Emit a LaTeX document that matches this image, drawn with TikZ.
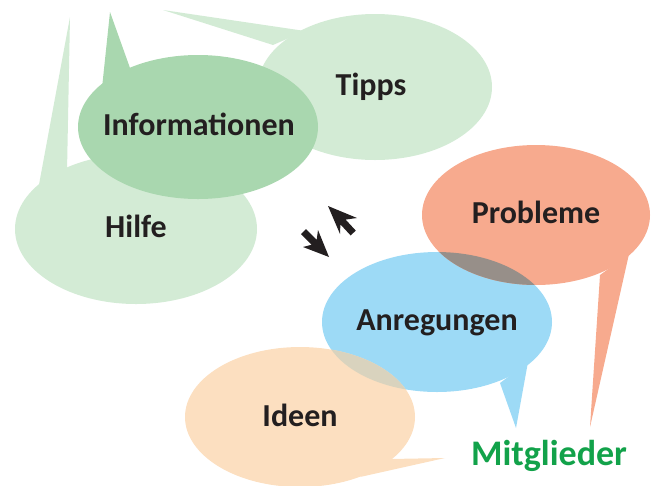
\documentclass[tikz,border=0pt]{standalone}
\usepackage{fontspec}
\setmainfont{Carlito}
\definecolor{lgreen}{HTML}{D3EBD5}
\definecolor{mgreen}{HTML}{A9D7AF}
\definecolor{salmon}{HTML}{F7AA8E}
\definecolor{skyb}{HTML}{9DDAF6}
\definecolor{peach}{HTML}{FCDFC0}
\definecolor{ovlA}{HTML}{978F89}
\definecolor{ovlB}{HTML}{D9D3BE}
\definecolor{txt}{HTML}{231F20}
\definecolor{mgtxt}{HTML}{12A24A}
\begin{document}
\begin{tikzpicture}[x=1pt,y=-1pt,
  lbl/.style={font=\fontsize{32}{36}\selectfont\bfseries, text=txt, inner sep=0pt, anchor=base},
  arrowshape/.style={fill=txt}]
\useasboundingbox (0,0) rectangle (652,485);
% Tipps
\fill[lgreen] (375,87) ellipse [x radius=117, y radius=73];
\fill[lgreen] (163,10) -- (305,31) -- (273,45) -- cycle;
% Hilfe
\fill[lgreen] (136,229) ellipse [x radius=121, y radius=75];
\fill[lgreen] (70,17) -- (67,172) -- (38,190) -- cycle;
% Informationen
\fill[mgreen] (198,127) ellipse [x radius=120, y radius=72];
\fill[mgreen] (110,12) -- (130,68) -- (102,88) -- cycle;
% Anregungen
\fill[skyb] (437,322) ellipse [x radius=115, y radius=70];
\fill[skyb] (516,428) -- (528,362) -- (500,383) -- cycle;
% Probleme
\fill[salmon] (536,215) ellipse [x radius=114, y radius=70];
\fill[salmon] (590,427) -- (629,254) -- (600,275) -- cycle;
\begin{scope}
  \clip (437,322) ellipse [x radius=115, y radius=70];
  \fill[ovlA] (536,215) ellipse [x radius=114, y radius=70];
\end{scope}
% Ideen
\fill[peach] (300,417) ellipse [x radius=115, y radius=70];
\fill[peach] (445,458) -- (390,459) -- (360,477) -- cycle;
\begin{scope}
  \clip (437,322) ellipse [x radius=115, y radius=70];
  \fill[ovlB] (300,417) ellipse [x radius=115, y radius=70];
\end{scope}
% labels
\node[lbl] (tipps) at (371,95) {Tipps};
\node[lbl] (info) at (199,135) {Informationen};
\node[lbl] (hilfe) at (136,237) {Hilfe};
\node[lbl] (probleme) at (536,223) {Probleme};
\node[lbl] (anregungen) at (437,330) {Anregungen};
\node[lbl] (ideen) at (300,426) {Ideen};
\node[lbl, text=mgtxt, font=\fontsize{36}{40}\selectfont\bfseries] (mitglieder) at (549,465) {Mitglieder};
% arrows
\fill[arrowshape] (328,206) -- (357,218) -- (345.6,219.6) -- (355.8,230.6)
  -- (350.6,235.4) -- (340.4,224.4) -- (340,234) -- cycle;
\fill[arrowshape] (329,257) -- (318,230) -- (316.7,239.7) -- (306,229)
  -- (301,234) -- (311.7,244.7) -- (303,247) -- cycle;
\end{tikzpicture}
\end{document}
